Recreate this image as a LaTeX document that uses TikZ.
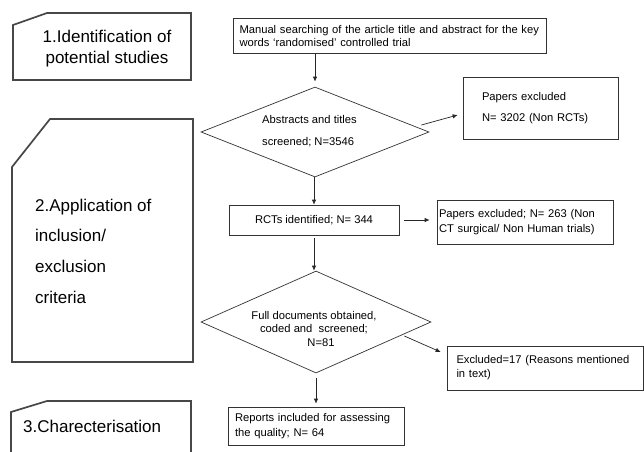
\documentclass[tikz,border=0pt]{standalone}
\usepackage{fontspec}
\setmainfont{Liberation Sans}
\usetikzlibrary{shapes.geometric,arrows.meta,calc}
\begin{document}
\begin{tikzpicture}[x=1pt,y=-1pt,
  stage/.style={draw=black!72, line width=1.7pt, line join=miter},
  stagetext/.style={inner sep=0pt, font=\fontsize{17}{21}\selectfont},
  box/.style={draw=black!80, line width=0.7pt, rectangle, inner sep=0pt, font=\fontsize{11.2}{15}\selectfont},
  dia/.style={draw=black!80, line width=0.7pt, diamond, inner sep=0pt},
  txt/.style={inner sep=0pt, font=\fontsize{11.2}{13.5}\selectfont},
  arr/.style={draw=black!85, line width=0.7pt, -{Latex[length=5pt,width=4.5pt]}}]
\useasboundingbox (0,0) rectangle (644,451);
\fill[white] (0,0) rectangle (644,451);

% stage boxes (left)
\draw[stage] (13,25) -- (47,13) -- (191,13) -- (191,80) -- (13,80) -- cycle;
\node[stagetext, align=center] (s1) at (107,48.5) {1.Identification of\\potential studies};

\draw[stage] (12,167) -- (50,119) -- (193,119) -- (193,362) -- (12,362) -- cycle;
\node[stagetext, anchor=west, align=left, font=\fontsize{17}{30.7}\selectfont] (s2) at (35,251) {2.Application of\\inclusion/\\exclusion\\criteria};

\draw[stage] (191,458) -- (191,401) -- (47,401) -- (11,412) -- (11,458);
\node[stagetext, anchor=west] (s3) at (23,426) {3.Charecterisation};

% flow (right)
\node[box, minimum width=313, minimum height=35, text width=300, align=left, font=\fontsize{11.2}{13}\selectfont] (man) at (389.5,35.5)
  {Manual searching of the article title and abstract for the key\\words ‘randomised’ controlled trial};

\node[dia, minimum width=228, minimum height=90] (d1) at (315,132) {};
\node[txt, anchor=west, align=left, font=\fontsize{11.2}{22}\selectfont] (d1t) at (262,131) {Abstracts and titles\\screened; N=3546};

\node[box, minimum width=155, minimum height=62, text width=117, align=left, font=\fontsize{11.2}{21}\selectfont] (pe1) at (540.5,108)
  {Papers excluded\\N= 3202 (Non RCTs)};

\node[box, minimum width=170, minimum height=30, align=center] (rct) at (314,220) {RCTs identified; N= 344};

\node[box, minimum width=176, minimum height=44, text width=172, align=left] (pe2) at (525,222)
  {Papers excluded; N= 263 (Non\\CT surgical/ Non Human trials)};

\node[dia, minimum width=230, minimum height=102] (d2) at (316,322) {};
\node[txt, align=center] (d2t) at (314,328.5) {Full documents obtained,\\coded and\ \ screened;\\\hspace*{14pt}N=81};

\node[box, minimum width=196, minimum height=44, text width=177, align=left, font=\fontsize{11.2}{14}\selectfont] (ex) at (545,368)
  {Excluded=17 (Reasons mentioned\\in text)};

\node[box, minimum width=176, minimum height=38, text width=162, align=left] (rep) at (316,426)
  {Reports included for assessing\\the quality; N= 64};

% connectors
\draw[arr, shorten >=5pt] (d1.north |- man.south) -- (d1.north);
\draw[arr] ($(d1.east)+(-8,-7)$) -- ($(pe1.west)+(-5,7)$);
\draw[arr] (d1.south -| rct.north) -- (rct.north);
\draw[arr, shorten <=5pt, shorten >=7pt] (rct.east) -- (rct.east -| pe2.west);
\draw[arr, shorten <=3pt] (rct.south) -- (rct.south |- d2.north);
\draw[arr] ($(d2.east)+(-27,14)$) -- ($(ex.west)+(-6,-16)$);
\draw[arr, shorten <=5pt, shorten >=3pt] (d2.south -| rep.north) -- (rep.north);
\end{tikzpicture}
\end{document}
